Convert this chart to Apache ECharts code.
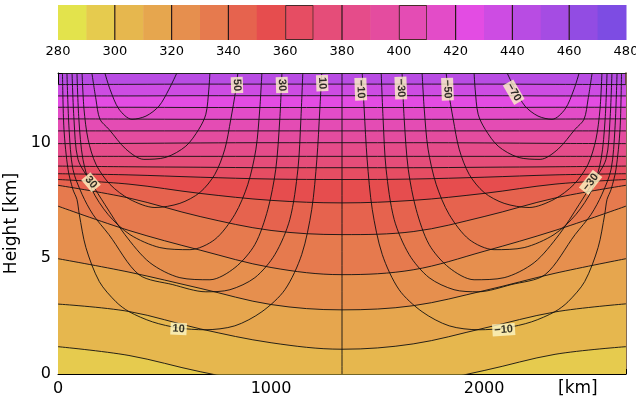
<!DOCTYPE html>
<html>
<head>
<meta charset="utf-8">
<script src="https://cdn.jsdelivr.net/npm/echarts@6/dist/echarts.min.js"></script>
<style>
  html, body { margin: 0; padding: 0; background: #fff; }
  #chart { width: 636px; height: 404px; }
</style>
</head>
<body>
<div id="chart"></div>
<script>
// colour bar: potential temperature bands [K]
const thetaEdges = [280, 290, 300, 310, 320, 330, 340, 350, 360, 370, 380, 390, 400, 410, 420, 430, 440, 450, 460, 470, 480];
const bandColors = ['#e3e34c', '#e6cb4e', '#e6b74e', '#e6a64e', '#e68f4e', '#e67a4e', '#e6634e', '#e64d4e', '#e64d63', '#e54d79',
  '#e54c8a', '#e44c9f', '#e44cb4', '#e34cc8', '#e34ce3', '#cd4ce3', '#b84ce3', '#a54ce3', '#924ce3', '#7d4ce3'];

// theta isolines: height [km] at these distances [km]
const xKm = [0, 333, 667, 1000, 1333, 1667, 2000, 2333, 2666];
const theta300 = [1.18, 0.80, 0.10, -0.45, -0.65, -0.45, 0.15, 0.85, 1.18];
const theta310 = [3.02, 2.70, 1.95, 1.35, 1.07, 1.30, 1.98, 2.68, 3.03];
const theta320 = [4.98, 4.40, 3.70, 3.00, 2.77, 2.95, 3.60, 4.35, 4.98];
const theta330 = [7.25, 6.20, 5.35, 4.60, 4.29, 4.50, 5.30, 6.20, 7.25];
const theta340 = [8.15, 7.60, 6.80, 6.20, 6.02, 6.15, 6.80, 7.60, 8.15];
const theta350 = [8.40, 8.20, 7.80, 7.50, 7.39, 7.50, 7.80, 8.20, 8.40];
const theta360 = [8.65, 8.60, 8.50, 8.42, 8.40, 8.42, 8.50, 8.60, 8.65];
const theta370 = [8.98, 8.95, 8.93, 8.91, 8.91, 8.91, 8.93, 8.95, 8.98];
const theta380 = [9.40, 9.40, 9.40, 9.40, 9.40, 9.40, 9.40, 9.40, 9.40];
const theta390 = [9.95, 9.96, 9.98, 9.99, 9.99, 9.99, 9.98, 9.96, 9.95];
const theta400 = [10.50, 10.50, 10.50, 10.50, 10.50, 10.50, 10.50, 10.50, 10.50];
const theta410 = [11.02, 11.01, 11.00, 11.00, 11.00, 11.00, 11.00, 11.01, 11.02];
const theta420 = [11.52, 11.52, 11.51, 11.51, 11.51, 11.51, 11.51, 11.52, 11.52];
const theta430 = [12.01, 12.01, 12.02, 12.02, 12.02, 12.02, 12.02, 12.01, 12.01];
const theta440 = [12.50, 12.51, 12.52, 12.52, 12.52, 12.52, 12.52, 12.51, 12.50];
const topBand = 440;

// wind isolines [m/s]: [distance km, height km]
const u70 = [[220, 13.0], [244, 12.3], [286, 11.44], [347, 11.0], [413, 11.14], [474, 11.57], [521, 12.3], [558, 13.0]];
const u60 = [[159, 13.0], [178, 11.87], [197, 11.0], [239, 10.57], [319, 9.71], [403, 9.27], [507, 9.36], [600, 9.84], [661, 10.57], [694, 11.22], [708, 12.3], [713, 13.0]];
const u50 = [[113, 13.0], [122, 11.44], [141, 10.14], [178, 9.06], [244, 8.19], [338, 7.54], [455, 7.19], [572, 7.37], [666, 7.84], [736, 8.62], [783, 9.71], [811, 11.0], [835, 12.3], [844, 13.0]];
const u40 = [[89, 13.0], [98, 11.0], [117, 9.27], [159, 7.97], [235, 6.89], [338, 6.02], [478, 5.46], [619, 5.37], [736, 5.81], [830, 6.89], [891, 8.19], [929, 9.71], [947, 11.44], [957, 13.0]];
const u30 = [[66, 13.0], [75, 11.0], [94, 9.27], [155, 8.28], [220, 7.32], [314, 6.02], [431, 4.81], [572, 4.16], [713, 4.07], [830, 4.59], [924, 5.59], [985, 7.11], [1022, 8.84], [1041, 11.0], [1051, 13.0]];
const u20 = [[42, 13.0], [52, 10.57], [70, 8.84], [113, 7.76], [164, 6.89], [239, 6.02], [380, 4.29], [539, 3.86], [694, 3.55], [807, 3.64], [924, 4.16], [1018, 5.16], [1088, 6.67], [1126, 8.84], [1140, 11.0], [1149, 13.0]];
const u10 = [[21, 13.0], [28, 10.57], [47, 8.84], [70, 7.97], [89, 7.54], [100, 6.89], [131, 5.46], [194, 3.99], [272, 3.12], [334, 2.69], [444, 2.25], [566, 1.99], [689, 1.91], [830, 2.08], [957, 2.69], [1065, 3.64], [1144, 5.16], [1191, 7.11], [1215, 9.27], [1229, 11.44], [1238, 13.0]];
const u0 = [[1333, 0], [1333, 13]];
const um10 = [[1428, 13.0], [1437, 11.44], [1451, 9.27], [1475, 7.11], [1522, 5.16], [1601, 3.64], [1709, 2.69], [1836, 2.08], [1977, 1.91], [2100, 1.99], [2222, 2.25], [2332, 2.69], [2394, 3.12], [2472, 3.99], [2535, 5.46], [2566, 6.89], [2577, 7.54], [2596, 7.97], [2619, 8.84], [2638, 10.57], [2645, 13.0]];
const um20 = [[1517, 13.0], [1526, 11.0], [1540, 8.84], [1578, 6.67], [1648, 5.16], [1742, 4.16], [1859, 3.64], [1972, 3.55], [2127, 3.86], [2286, 4.29], [2427, 6.02], [2502, 6.89], [2553, 7.76], [2596, 8.84], [2614, 10.57], [2624, 13.0]];
const um30 = [[1615, 13.0], [1625, 11.0], [1644, 8.84], [1681, 7.11], [1742, 5.59], [1836, 4.59], [1953, 4.07], [2094, 4.16], [2235, 4.81], [2352, 6.02], [2446, 7.32], [2511, 8.28], [2572, 9.27], [2591, 11.0], [2600, 13.0]];
const um40 = [[1709, 13.0], [1719, 11.44], [1737, 9.71], [1775, 8.19], [1836, 6.89], [1930, 5.81], [2047, 5.37], [2188, 5.46], [2328, 6.02], [2431, 6.89], [2507, 7.97], [2549, 9.27], [2568, 11.0], [2577, 13.0]];
const um50 = [[1822, 13.0], [1831, 12.3], [1855, 11.0], [1883, 9.71], [1930, 8.62], [2000, 7.84], [2094, 7.37], [2211, 7.19], [2328, 7.54], [2422, 8.19], [2488, 9.06], [2525, 10.14], [2544, 11.44], [2553, 13.0]];
const um60 = [[1953, 13.0], [1958, 12.3], [1972, 11.22], [2005, 10.57], [2066, 9.84], [2159, 9.36], [2263, 9.27], [2347, 9.71], [2427, 10.57], [2469, 11.0], [2488, 11.87], [2507, 13.0]];
const um70 = [[2108, 13.0], [2145, 12.3], [2192, 11.57], [2253, 11.14], [2319, 11.0], [2380, 11.44], [2422, 12.3], [2446, 13.0]];

// contour labels: [distance km, height km, text, angle deg]
const windLabels = [
  [840, 12.48, '50', -88], [1051, 12.48, '30', -88], [1240, 12.56, '10', -88],
  [1421, 12.30, '−10', -88], [1609, 12.35, '−30', -88], [1828, 12.30, '−50', -88],
  [2139, 12.17, '−70', -60], [155, 8.28, '30', -50], [2500, 8.28, '−30', 52],
  [566, 1.95, '10', -3], [2092, 1.91, '−10', 4]
];

const xTicks = { min: 0, max: 2666, interval: 1000 };
const zTicks = { min: 0, max: 13, interval: 5 };

const thetaLines = [
  [300, theta300], [310, theta310], [320, theta320], [330, theta330], [340, theta340],
  [350, theta350], [360, theta360], [370, theta370], [380, theta380], [390, theta390],
  [400, theta400], [410, theta410], [420, theta420], [430, theta430], [440, theta440]
];
const windLines = [u70, u60, u50, u40, u30, u20, u10, u0, um10, um20, um30, um40, um50, um60, um70];

const colorOf = lo => bandColors[thetaEdges.indexOf(lo)];
const font = 'DejaVu Sans';

const fillSeries = thetaLines.slice().reverse().map(([lev, zs]) => ({
  type: 'line',
  xAxisIndex: 1,
  yAxisIndex: 1,
  data: xKm.map((x, i) => [x, zs[i]]),
  smooth: 0.35,
  symbol: 'none',
  silent: true,
  lineStyle: { color: '#111', width: 0.9 },
  areaStyle: { color: colorOf(lev - 10), opacity: 1, origin: 'start' },
  z: 2
}));

const windSeries = windLines.map(pts => ({
  type: 'line',
  xAxisIndex: 1,
  yAxisIndex: 1,
  data: pts,
  smooth: 0.3,
  symbol: 'none',
  silent: true,
  lineStyle: { color: '#111', width: 0.9 },
  z: 3
}));

const chart = echarts.init(document.getElementById('chart'), null, { renderer: 'canvas' });
chart.setOption({
  animation: false,
  textStyle: { fontFamily: font },
  grid: [
    { left: 58, right: 10, top: 5, height: 35, outerBoundsMode: 'none', containLabel: false },
    { left: 58, right: 10, top: 73, bottom: 30, outerBoundsMode: 'none', containLabel: false,
      show: true, backgroundColor: colorOf(topBand), borderWidth: 0 }
  ],
  xAxis: [
    {
      gridIndex: 0, type: 'value', min: 280, max: 480, interval: 20,
      axisLine: { show: false }, axisTick: { show: false }, splitLine: { show: false },
      axisLabel: { color: '#000', fontSize: 13, margin: 5, fontFamily: font }
    },
    {
      gridIndex: 1, type: 'value', min: xTicks.min, max: xTicks.max, interval: xTicks.interval,
      axisLine: { onZero: false, lineStyle: { color: '#000', width: 1 } },
      axisTick: { inside: true, length: 5, lineStyle: { color: '#000' } },
      minorTick: { show: true, splitNumber: 2, length: 5, lineStyle: { color: '#000' } },
      splitLine: { show: false },
      axisLabel: { color: '#000', fontSize: 16, margin: 7, fontFamily: font, showMaxLabel: false, formatter: v => String(v) },
      name: '[km]', nameLocation: 'end', nameGap: -68,
      nameTextStyle: { color: '#000', fontSize: 17, fontFamily: font, align: 'left', verticalAlign: 'top', padding: [6, 0, 0, 0] }
    },
    {
      gridIndex: 1, type: 'value', position: 'top', min: xTicks.min, max: xTicks.max,
      axisLine: { onZero: false, lineStyle: { color: '#222', width: 1 } },
      axisTick: { show: false }, axisLabel: { show: false }, splitLine: { show: false }
    }
  ],
  yAxis: [
    { gridIndex: 0, type: 'value', min: 0, max: 1, show: false },
    {
      gridIndex: 1, type: 'value', min: zTicks.min, max: zTicks.max, interval: zTicks.interval,
      axisLine: { onZero: false, lineStyle: { color: '#000', width: 1 } },
      axisTick: { inside: true, length: 5, lineStyle: { color: '#000' } },
      minorTick: { show: true, splitNumber: 5, length: 4, lineStyle: { color: '#000' } },
      splitLine: { show: false },
      axisLabel: { color: '#000', fontSize: 16, margin: 7, fontFamily: font, showMaxLabel: false },
      name: 'Height [km]', nameLocation: 'middle', nameRotate: 90, nameGap: 29,
      nameTextStyle: { color: '#000', fontSize: 17, fontFamily: font }
    },
    {
      gridIndex: 1, type: 'value', position: 'right', min: zTicks.min, max: zTicks.max,
      axisLine: { onZero: false, lineStyle: { color: '#5a3a1a', width: 1.5 } },
      axisTick: { show: false }, axisLabel: { show: false }, splitLine: { show: false }
    }
  ],
  series: [
    {
      type: 'custom',
      xAxisIndex: 0,
      yAxisIndex: 0,
      silent: true,
      data: bandColors.map((c, i) => [thetaEdges[i], thetaEdges[i + 1]]),
      renderItem: (params, api) => {
        const lo = api.value(0), hi = api.value(1);
        const p0 = api.coord([lo, 1]);
        const p1 = api.coord([hi, 0]);
        const w = p1[0] - p0[0], h = p1[1] - p0[1];
        const children = [{
          type: 'rect',
          shape: { x: p0[0], y: p0[1], width: w + 0.5, height: h },
          style: { fill: colorOf(lo) }
        }];
        if (lo === 360 || lo === 400) {
          children.push({
            type: 'rect',
            shape: { x: p0[0] + 0.5, y: p0[1] + 0.5, width: w - 1, height: h - 1 },
            style: { fill: null, stroke: '#4a2a2a', lineWidth: 1 }
          });
        } else if (lo % 20 === 0 && lo !== 280) {
          children.push({
            type: 'line',
            shape: { x1: p0[0], y1: p0[1], x2: p0[0], y2: p1[1] },
            style: { stroke: '#2a1a1a', lineWidth: 1.2 }
          });
        }
        return { type: 'group', children };
      },
      z: 2
    },
    ...fillSeries,
    ...windSeries,
    {
      type: 'scatter',
      xAxisIndex: 1,
      yAxisIndex: 1,
      symbolSize: 0,
      silent: true,
      data: windLabels.map(([x, z, t, r]) => ({
        value: [x, z],
        label: { formatter: t, rotate: r }
      })),
      label: {
        show: true,
        position: 'inside',
        color: '#000',
        fontSize: 11,
        fontWeight: 'bold',
        fontFamily: 'Liberation Sans',
        backgroundColor: '#fdf6c6',
        padding: [1, 2, 0, 2]
      },
      z: 5
    }
  ]
});
</script>
</body>
</html>
